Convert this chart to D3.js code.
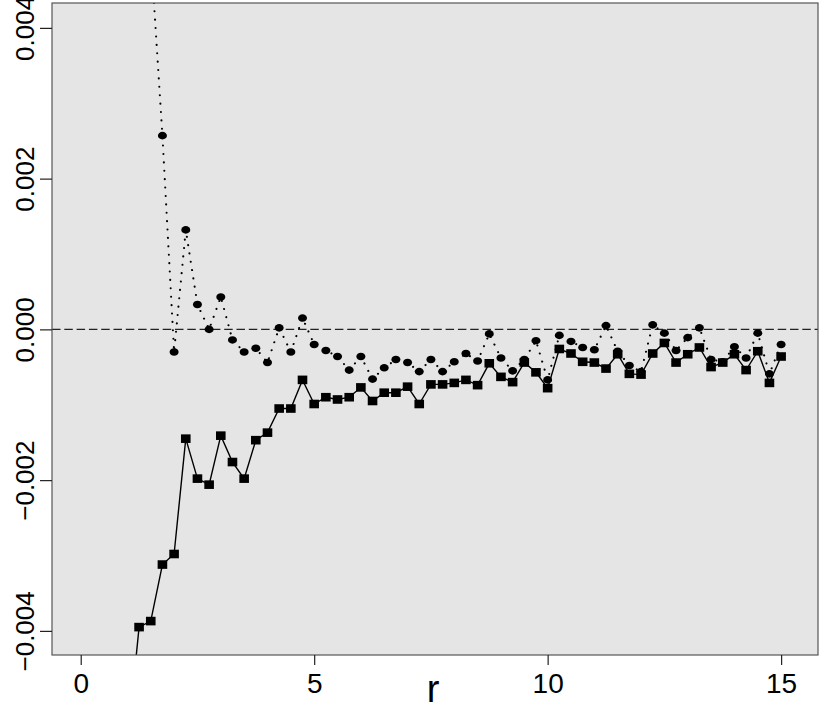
<!DOCTYPE html>
<html><head><meta charset="utf-8">
<script src="https://cdn.jsdelivr.net/npm/d3@7"></script>
<style>
html,body{margin:0;padding:0;background:#fff;}
svg text{font-family:"Liberation Sans",Arial,Helvetica,sans-serif;fill:#000;}
</style></head>
<body>
<svg id="chart" width="830" height="706"></svg>
<script>
// ---- data ----
const rSquares = [1.0,1.25,1.5,1.75,2.0,2.25,2.5,2.75,3.0,3.25,3.5,3.75,4.0,4.25,4.5,4.75,5.0,5.25,5.5,5.75,6.0,6.25,6.5,6.75,7.0,7.25,7.5,7.75,8.0,8.25,8.5,8.75,9.0,9.25,9.5,9.75,10.0,10.25,10.5,10.75,11.0,11.25,11.5,11.75,12.0,12.25,12.5,12.75,13.0,13.25,13.5,13.75,14.0,14.25,14.5,14.75,15.0];
const squareValues = [-0.0055,-0.00395,-0.00387,-0.00312,-0.00298,-0.00145,-0.00198,-0.00206,-0.00141,-0.00176,-0.00198,-0.00147,-0.00137,-0.00105,-0.00105,-0.00067,-0.00099,-0.00090,-0.00093,-0.00090,-0.00077,-0.00095,-0.00084,-0.00084,-0.00076,-0.00099,-0.00073,-0.00073,-0.00071,-0.00067,-0.00074,-0.00045,-0.00063,-0.00070,-0.00044,-0.00057,-0.00078,-0.00026,-0.00032,-0.00043,-0.00044,-0.00052,-0.00033,-0.00059,-0.00060,-0.00032,-0.00018,-0.00044,-0.00033,-0.00024,-0.00050,-0.00044,-0.00033,-0.00054,-0.00029,-0.00071,-0.00036];
const rCircles = [1.5,1.75,2.0,2.25,2.5,2.75,3.0,3.25,3.5,3.75,4.0,4.25,4.5,4.75,5.0,5.25,5.5,5.75,6.0,6.25,6.5,6.75,7.0,7.25,7.5,7.75,8.0,8.25,8.5,8.75,9.0,9.25,9.5,9.75,10.0,10.25,10.5,10.75,11.0,11.25,11.5,11.75,12.0,12.25,12.5,12.75,13.0,13.25,13.5,13.75,14.0,14.25,14.5,14.75,15.0];
const circleValues = [0.0050,0.00257,-0.00030,0.00132,0.00033,0.0000,0.00043,-0.00014,-0.00030,-0.00025,-0.00044,0.00002,-0.00030,0.00015,-0.00020,-0.00028,-0.00036,-0.00054,-0.00036,-0.00066,-0.00051,-0.00040,-0.00044,-0.00056,-0.00040,-0.00056,-0.00043,-0.00032,-0.00042,-0.00006,-0.00038,-0.00055,-0.00040,-0.00015,-0.00067,-0.00008,-0.00016,-0.00024,-0.00027,0.00005,-0.00029,-0.00048,-0.00056,0.00006,-0.00005,-0.00028,-0.00011,0.00002,-0.00040,-0.00043,-0.00023,-0.00038,-0.00005,-0.00059,-0.00020];
const xTicks = [0,5,10,15];
const xTickLabels = ["0","5","10","15"];
const yTicks = [-0.004,-0.002,0,0.002,0.004];
const yTickLabels = ["\u22120.004","\u22120.002","0.000","0.002","0.004"];
const xLabel = "r";

// ---- layout ----
const L = 52, R = 818, T = 3, B = 655;
const svg = d3.select("#chart");
const x = d3.scaleLinear().domain([-0.615, 15.79]).range([L, R]);
const y = d3.scaleLinear().domain([-0.00432, 0.00433]).range([B, T]);

svg.append("rect").attr("x", L).attr("y", T).attr("width", R - L).attr("height", B - T)
  .attr("fill", "#e5e5e5");

svg.append("clipPath").attr("id", "clip").append("rect")
  .attr("x", L).attr("y", T).attr("width", R - L).attr("height", B - T);
const g = svg.append("g").attr("clip-path", "url(#clip)");

// zero reference line
g.append("line").attr("x1", L).attr("x2", R).attr("y1", y(0)).attr("y2", y(0))
  .attr("stroke", "#222").attr("stroke-width", 1.3).attr("stroke-dasharray", "8.5,3.8");

const sq = rSquares.map((r, i) => [r, squareValues[i]]);
const ci = rCircles.map((r, i) => [r, circleValues[i]]);
const line = d3.line().x(d => x(d[0])).y(d => y(d[1]));

g.append("path").attr("d", line(sq)).attr("fill", "none").attr("stroke", "#000").attr("stroke-width", 1.4);
g.append("path").attr("d", line(ci)).attr("fill", "none").attr("stroke", "#000")
  .attr("stroke-width", 2.1).attr("stroke-linecap", "round").attr("stroke-dasharray", "0.01,8.4");

g.selectAll("rect.sq").data(sq).enter().append("rect").attr("class", "sq")
  .attr("x", d => x(d[0]) - 4.8).attr("y", d => y(d[1]) - 4.3)
  .attr("width", 9.6).attr("height", 8.6).attr("fill", "#000");
g.selectAll("ellipse.ci").data(ci).enter().append("ellipse").attr("class", "ci")
  .attr("cx", d => x(d[0])).attr("cy", d => y(d[1]))
  .attr("rx", 4.5).attr("ry", 3.8).attr("fill", "#000");

// box
svg.append("rect").attr("x", L).attr("y", T).attr("width", R - L).attr("height", B - T)
  .attr("fill", "none").attr("stroke", "#555").attr("stroke-width", 1.2);

// x axis
const xa = svg.append("g").attr("transform", `translate(0,${B})`)
  .call(d3.axisBottom(x).tickValues(xTicks).tickSize(10).tickFormat((d, i) => xTickLabels[i]));
xa.select(".domain").remove();
xa.selectAll(".tick line").attr("stroke", "#222").attr("stroke-width", 1.2);
xa.selectAll(".tick text").attr("font-size", 28).attr("dy", null).attr("y", 38)
  .style("font-family", "'Liberation Sans',Arial,sans-serif");

// y axis
const ya = svg.append("g").attr("transform", `translate(${L},0)`)
  .call(d3.axisLeft(y).tickValues(yTicks).tickSize(12).tickFormat((d, i) => yTickLabels[i]));
ya.select(".domain").remove();
ya.selectAll(".tick line").attr("stroke", "#222").attr("stroke-width", 1.2);
ya.selectAll(".tick text").attr("font-size", 26).attr("x", null).attr("dy", null)
  .attr("text-anchor", "middle")
  .attr("transform", "translate(-18,0) rotate(-90)")
  .style("font-family", "'Liberation Sans',Arial,sans-serif");

svg.append("text").attr("x", 433).attr("y", 702).attr("text-anchor", "middle")
  .attr("font-size", 38).text(xLabel);
</script>
</body></html>
